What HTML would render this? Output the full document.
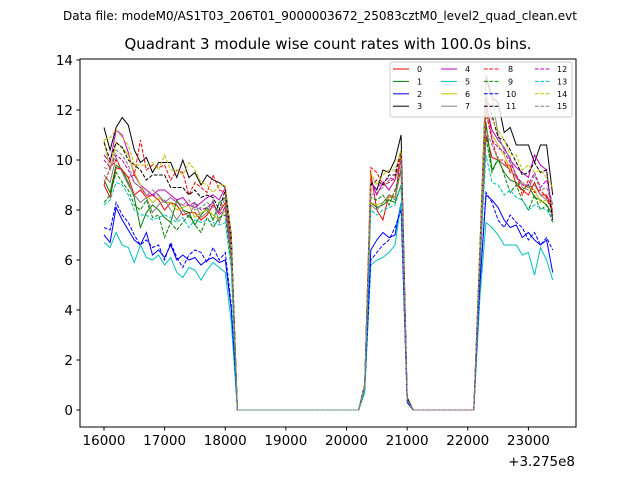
<!DOCTYPE html>
<html><head><meta charset="utf-8"><style>
body{margin:0;background:#fff}
svg text{font-family:"DejaVu Sans","Liberation Sans",sans-serif}
</style></head><body>
<svg id="chart" width="640" height="480" viewBox="0 0 640 480" xmlns="http://www.w3.org/2000/svg">
<rect width="640" height="480" fill="#fff"/>
<text x="320" y="20" font-size="12" text-anchor="middle">Data file: modeM0/AS1T03_206T01_9000003672_25083cztM0_level2_quad_clean.evt</text>
<text x="328" y="49" font-size="15" text-anchor="middle">Quadrant 3 module wise count rates with 100.0s bins.</text>
<g id="plot"></g>
<rect x="80" y="59" width="496" height="368" fill="none" stroke="#000" stroke-width="1"/>
<g id="ticks"></g>
<text x="575" y="466" font-size="13.5" text-anchor="end">+3.275e8</text>
<g id="legend"></g>
</svg>
<script>
const seg1Times=[16000,16100,16200,16300,16400,16500,16600,16700,16800,16900,17000,17100,17200,17300,17400,17500,17600,17700,17800,17900,18000,18100];
const seg2Times=[20300,20400,20500,20600,20700,20800,20900,21000];
const seg3Times=[22200,22300,22400,22500,22600,22700,22800,22900,23000,23100,23200,23300,23400];
const gap1Times=[18200,18300,18400,18500,18600,18700,18800,18900,19000,19100,19200,19300,19400,19500,19600,19700,19800,19900,20000,20100,20200];
const gap2Times=[21100,21200,21300,21400,21500,21600,21700,21800,21900,22000,22100];
const xTicks=[16000,17000,18000,19000,20000,21000,22000,23000];
const xTickLabels=["16000","17000","18000","19000","20000","21000","22000","23000"];
const yTicks=[0,2,4,6,8,10,12,14];
const colors=["#ff0000","#008000","#0000ff","#000000","#bf00bf","#00bfbf","#bfbf00","#808080"];
const seg1=[
[9.0,8.5,9.7,9.6,9.3,8.6,8.8,8.5,8.6,8.4,8.0,8.3,8.2,7.8,7.9,7.9,7.6,7.8,8.2,7.9,8.3,6.5],
[9.2,8.7,9.8,9.6,9.1,8.5,7.3,7.9,8.2,8.0,7.7,7.5,8.4,8.0,7.9,7.4,7.8,8.1,7.6,8.3,8.5,6.4],
[7.0,6.7,8.1,7.6,7.2,6.8,6.6,7.1,6.2,6.4,6.1,6.6,6.0,6.2,6.0,6.1,5.8,6.0,6.1,5.9,6.0,4.0],
[11.3,10.4,11.3,11.7,11.4,10.4,9.9,10.1,9.5,9.9,9.9,9.9,9.3,10.0,9.3,9.5,9.0,9.4,9.2,9.1,8.9,7.0],
[10.2,9.9,11.2,11.0,10.3,9.4,9.0,8.8,8.6,8.8,8.8,8.6,8.4,8.5,8.2,8.1,8.3,8.5,8.6,8.4,8.9,6.3],
[6.7,6.5,7.1,6.6,6.5,5.9,6.6,6.1,6.0,6.2,5.8,6.1,5.5,5.3,5.7,5.6,5.2,5.6,5.9,5.7,5.5,3.5],
[10.8,9.6,10.7,10.5,10.2,9.5,9.0,8.6,8.3,8.5,8.3,8.3,8.0,8.1,8.2,7.7,7.9,8.0,7.8,7.6,8.0,6.0],
[9.4,9.1,10.1,9.5,9.0,8.6,8.3,8.5,7.9,8.2,8.4,8.0,7.6,8.0,7.7,8.3,7.7,7.9,8.4,7.5,8.2,6.2],
[9.0,9.7,10.0,9.6,9.3,9.4,10.8,9.6,9.8,9.7,9.8,9.2,9.6,9.5,8.6,9.1,8.9,8.7,9.4,8.8,8.7,6.7],
[8.3,8.6,9.5,9.1,8.8,8.2,8.0,8.4,7.7,7.8,6.9,7.5,7.2,7.5,7.8,7.4,7.1,7.7,7.3,7.7,7.8,5.9],
[7.3,7.2,8.3,7.8,7.5,7.0,6.6,6.8,6.5,6.6,6.0,6.7,6.1,5.7,6.2,6.4,6.3,5.9,6.5,6.0,6.3,4.2],
[10.7,10.0,10.7,10.5,10.0,9.8,9.6,9.2,9.4,9.4,9.4,8.9,8.9,8.9,8.6,8.8,8.5,8.6,8.5,8.0,8.8,6.8],
[10.0,9.7,10.2,10.0,9.6,9.1,8.9,8.6,8.6,8.6,8.3,8.5,8.3,8.2,8.2,8.3,8.0,8.1,8.3,7.8,8.1,6.2],
[8.2,8.4,9.1,9.0,8.6,8.0,7.8,7.8,7.6,7.7,7.8,7.7,7.5,7.7,7.3,7.6,7.5,7.6,7.5,7.4,7.5,5.6],
[10.8,10.9,11.2,10.9,10.6,9.8,9.8,9.8,9.9,9.6,10.2,9.6,9.6,9.4,9.9,9.6,9.1,9.0,8.7,9.0,9.0,6.9],
[9.7,9.6,10.4,10.2,9.8,9.1,8.9,8.6,8.8,8.6,8.3,8.5,8.3,8.2,8.4,8.0,8.1,8.3,8.1,7.9,8.5,6.3]];
const seg2=[
[1.0,9.5,8.0,7.6,8.6,8.5,10.2,0.4],[1.0,8.3,8.1,8.2,8.4,8.3,9.0,0.4],[0.8,6.4,6.8,7.1,6.9,7.0,8.3,0.3],[1.0,9.1,8.8,9.6,9.5,10.0,11.0,0.5],
[1.0,9.2,8.6,9.1,8.8,9.2,10.0,0.4],[0.7,5.8,6.0,6.1,6.3,6.6,8.3,0.3],[0.9,8.3,8.2,8.3,8.5,8.5,9.6,0.4],[0.9,8.2,8.0,8.3,8.6,8.4,9.7,0.4],
[1.0,9.7,9.5,9.0,9.1,9.3,10.2,0.4],[0.9,8.5,8.4,8.6,8.2,8.8,9.6,0.4],[0.8,6.0,6.3,6.6,6.8,7.3,8.0,0.3],[1.0,9.0,9.2,9.0,9.4,9.4,10.4,0.4],
[0.9,8.8,8.9,9.1,9.3,9.2,10.0,0.4],[0.8,8.0,7.8,8.0,8.1,8.2,9.0,0.4],[1.0,9.5,9.0,9.4,9.6,9.6,10.4,0.4],[0.9,8.6,8.7,8.9,9.2,9.2,10.0,0.4]];
const seg3=[
[6.0,11.0,10.1,10.0,9.8,9.8,9.0,8.8,8.6,9.1,8.6,8.6,8.0],[5.5,11.5,9.6,10.0,9.5,9.2,9.1,8.8,9.0,8.5,8.4,8.2,7.8],
[5.0,8.6,8.4,8.1,7.6,7.3,7.4,6.9,7.1,6.8,6.6,6.8,5.5],[6.5,13.3,12.5,12.3,11.1,11.3,10.6,10.6,10.6,9.9,10.6,10.6,8.6],
[6.0,12.2,11.2,10.8,10.5,10.0,9.7,9.5,9.3,10.2,9.8,9.6,7.6],[4.5,7.5,7.3,7.0,6.6,6.6,6.6,6.2,6.3,5.4,6.5,6.0,5.2],
[6.0,12.0,11.0,10.6,10.2,9.6,9.3,9.0,8.9,8.8,8.3,8.4,8.2],[6.0,13.4,12.6,11.0,10.4,10.1,9.3,9.1,8.9,9.0,8.6,8.4,8.0],
[6.2,11.9,10.8,10.0,10.0,9.5,9.4,8.6,9.2,8.7,8.8,8.5,7.9],[5.8,10.9,9.5,10.1,9.4,8.7,9.0,8.4,8.0,8.6,8.0,8.2,7.5],
[5.0,8.7,8.3,7.6,7.3,7.8,7.5,7.3,6.8,7.1,6.6,6.9,6.4],[6.3,12.5,11.8,10.9,10.8,10.4,9.9,9.4,9.5,9.9,9.5,9.6,7.6],
[6.0,12.5,10.8,10.5,10.3,9.9,9.4,9.0,9.0,9.5,8.9,9.2,8.2],[5.8,10.2,9.1,9.0,8.6,8.8,8.5,8.4,8.0,8.2,8.1,8.0,7.7],
[6.5,12.8,11.6,11.2,10.8,10.2,10.2,9.6,9.8,9.5,9.6,9.3,8.9],[6.0,11.2,10.6,10.0,9.8,9.6,9.3,8.9,8.8,9.4,8.8,8.9,8.2]];
const NS="http://www.w3.org/2000/svg";
const xS=t=>104+(t-16000)*0.06063;
const yS=v=>410-v*25.0;
const plot=document.getElementById('plot');
const times=[].concat(seg1Times,gap1Times,seg2Times,gap2Times,seg3Times);
for(let i=0;i<16;i++){
  const vals=[].concat(seg1[i],gap1Times.map(()=>0),seg2[i],gap2Times.map(()=>0),seg3[i]);
  const p=document.createElementNS(NS,'polyline');
  
  
  p.setAttribute('points',times.map((t,k)=>xS(t).toFixed(1)+','+yS(vals[k]).toFixed(1)).join(' '));
  p.setAttribute('fill','none');p.setAttribute('stroke',colors[i%8]);p.setAttribute('stroke-width','1');
  if(i>=8)p.setAttribute('stroke-dasharray','3.7,1.6');
  plot.appendChild(p);
}
const tg=document.getElementById('ticks');
xTicks.forEach((t,k)=>{
  const l=document.createElementNS(NS,'line');
  
  
  l.setAttribute('x1',xS(t));l.setAttribute('x2',xS(t));l.setAttribute('y1',427);l.setAttribute('y2',430.5);l.setAttribute('stroke','#000');
  tg.appendChild(l);
  const tx=document.createElementNS(NS,'text');
  
  
  tx.setAttribute('x',xS(t));tx.setAttribute('y',445);tx.setAttribute('font-size','13.5');tx.setAttribute('text-anchor','middle');
  tx.textContent=xTickLabels[k];tg.appendChild(tx);
});
yTicks.forEach(v=>{
  const l=document.createElementNS(NS,'line');
  
  
  l.setAttribute('x1',76.5);l.setAttribute('x2',80);l.setAttribute('y1',yS(v));l.setAttribute('y2',yS(v));l.setAttribute('stroke','#000');
  tg.appendChild(l);
  const tx=document.createElementNS(NS,'text');
  
  
  tx.setAttribute('x',73);tx.setAttribute('y',yS(v)+5);tx.setAttribute('font-size','13.5');tx.setAttribute('text-anchor','end');
  tx.textContent=String(v);tg.appendChild(tx);
});
const lg=document.getElementById('legend');
const box=document.createElementNS(NS,'rect');


box.setAttribute('x',390);box.setAttribute('y',62);box.setAttribute('width',182);box.setAttribute('height',55);box.setAttribute('rx',2);
box.setAttribute('fill','#fff');box.setAttribute('fill-opacity','0.8');box.setAttribute('stroke','#ccc');
lg.appendChild(box);
const colX=[393,441,484,535];
for(let i=0;i<16;i++){
  const c=Math.floor(i/4),r=i%4,y=69+r*12.4;
  const l=document.createElementNS(NS,'line');
  
  
  l.setAttribute('x1',colX[c]);l.setAttribute('x2',colX[c]+16);l.setAttribute('y1',y);l.setAttribute('y2',y);
  l.setAttribute('stroke',colors[i%8]);if(i>=8)l.setAttribute('stroke-dasharray','3.7,1.6');
  lg.appendChild(l);
  const tx=document.createElementNS(NS,'text');
  
  
  tx.setAttribute('x',colX[c]+(i>=10?22:24));tx.setAttribute('y',y+3);tx.setAttribute('font-size','8');
  tx.textContent=String(i);lg.appendChild(tx);
}
</script>
</body></html>
